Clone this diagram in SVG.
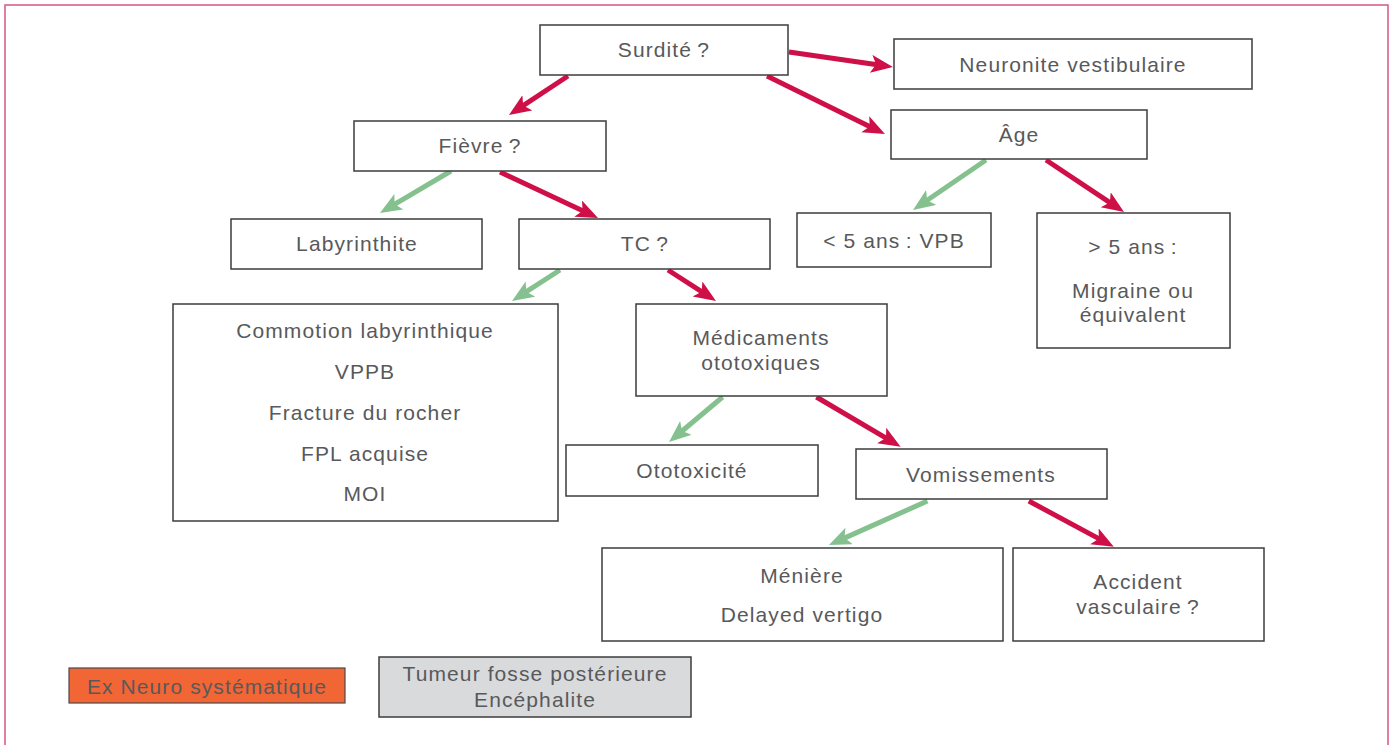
<svg xmlns="http://www.w3.org/2000/svg" width="1395" height="745" viewBox="0 0 1395 745">
<style>
.box{fill:#ffffff;stroke:#3c3c3c;stroke-width:1.5}
.t{font-family:"Liberation Sans",Arial,sans-serif;font-size:21px;fill:#58595b;text-anchor:middle;letter-spacing:1.1px}
.r{stroke:#cf1048;stroke-width:5;fill:none;marker-end:url(#ar)}
.g{stroke:#85c18f;stroke-width:5;fill:none;marker-end:url(#ag)}
</style>
<defs>
<marker id="ar" markerUnits="userSpaceOnUse" markerWidth="30" markerHeight="30" refX="15" refY="9" orient="auto"><path d="M0,0 L22,9 L0,18 L5,9 Z" fill="#cf1048"/></marker>
<marker id="ag" markerUnits="userSpaceOnUse" markerWidth="30" markerHeight="30" refX="15" refY="9" orient="auto"><path d="M0,0 L22,9 L0,18 L5,9 Z" fill="#85c18f"/></marker>
</defs>
<rect x="0" y="0" width="1395" height="745" fill="#ffffff"/>
<rect x="5" y="5" width="1383" height="770" fill="none" stroke="#d6577f" stroke-width="1.5"/>
<g id="connectors">
<line class="r" x1="568" y1="76" x2="514.8" y2="111.1"/>
<line class="r" x1="789" y1="52" x2="886" y2="66"/>
<line class="r" x1="767" y1="76" x2="878.7" y2="130.9"/>
<line class="g" x1="986" y1="160" x2="918.8" y2="206"/>
<line class="r" x1="1046" y1="160" x2="1118.2" y2="208.1"/>
<line class="g" x1="451" y1="171" x2="386" y2="209.4"/>
<line class="r" x1="500" y1="172" x2="591.7" y2="215"/>
<line class="g" x1="560" y1="270" x2="517.9" y2="297.2"/>
<line class="r" x1="668" y1="270" x2="710.1" y2="297.2"/>
<line class="g" x1="722.6" y1="397" x2="674.4" y2="437.5"/>
<line class="r" x1="816.4" y1="397" x2="894.6" y2="443.1"/>
<line class="g" x1="927.4" y1="501" x2="835.4" y2="542.1"/>
<line class="r" x1="1028.8" y1="501" x2="1107.6" y2="543.4"/>
</g>
<g id="surdite"><rect class="box" x="540" y="25" width="248" height="50"/><text class="t" x="664" y="57">Surdité&#8239;?</text></g>
<g id="neuronite"><rect class="box" x="894" y="39" width="358" height="50"/><text class="t" x="1073" y="72">Neuronite vestibulaire</text></g>
<g id="fievre"><rect class="box" x="354" y="121" width="252" height="50"/><text class="t" x="480" y="153">Fièvre&#8239;?</text></g>
<g id="age"><rect class="box" x="891" y="110" width="256" height="49"/><text class="t" x="1019" y="142">Âge</text></g>
<g id="labyrinthite"><rect class="box" x="231" y="219" width="251" height="50"/><text class="t" x="357" y="251">Labyrinthite</text></g>
<g id="tc"><rect class="box" x="519" y="219" width="251" height="50"/><text class="t" x="645" y="251">TC&#8239;?</text></g>
<g id="vpb"><rect class="box" x="797" y="213" width="194" height="54"/><text class="t" x="894" y="248">&lt; 5 ans&#8239;: VPB</text></g>
<g id="migraine"><rect class="box" x="1037" y="213" width="193" height="135"/><text class="t" x="1133" y="254">&gt; 5 ans&#8239;:</text><text class="t" x="1133" y="298">Migraine ou</text><text class="t" x="1133" y="322">équivalent</text></g>
<g id="commotion"><rect class="box" x="173" y="304" width="385" height="217"/><text class="t" x="365" y="338">Commotion labyrinthique</text><text class="t" x="365" y="379">VPPB</text><text class="t" x="365" y="420">Fracture du rocher</text><text class="t" x="365" y="461">FPL acquise</text><text class="t" x="365" y="501">MOI</text></g>
<g id="medicaments"><rect class="box" x="636" y="304" width="251" height="92"/><text class="t" x="761" y="345">Médicaments</text><text class="t" x="761" y="370">ototoxiques</text></g>
<g id="ototoxicite"><rect class="box" x="566" y="445" width="252" height="51"/><text class="t" x="692" y="478">Ototoxicité</text></g>
<g id="vomissements"><rect class="box" x="856" y="449" width="251" height="50"/><text class="t" x="981" y="482">Vomissements</text></g>
<g id="meniere"><rect class="box" x="602" y="548" width="401" height="93"/><text class="t" x="802" y="583">Ménière</text><text class="t" x="802" y="622">Delayed vertigo</text></g>
<g id="accident"><rect class="box" x="1013" y="548" width="251" height="93"/><text class="t" x="1138" y="589">Accident</text><text class="t" x="1138" y="614">vasculaire&#8239;?</text></g>
<g id="exneuro"><rect x="69" y="668" width="276" height="35" fill="#f26535" stroke="#4a4a4a" stroke-width="1.2"/><text class="t" x="207" y="694">Ex Neuro systématique</text></g>
<g id="tumeur"><rect x="379" y="657" width="312" height="60" fill="#d9dadc" stroke="#3c3c3c" stroke-width="1.5"/><text class="t" x="535" y="681">Tumeur fosse postérieure</text><text class="t" x="535" y="707">Encéphalite</text></g>
</svg>
